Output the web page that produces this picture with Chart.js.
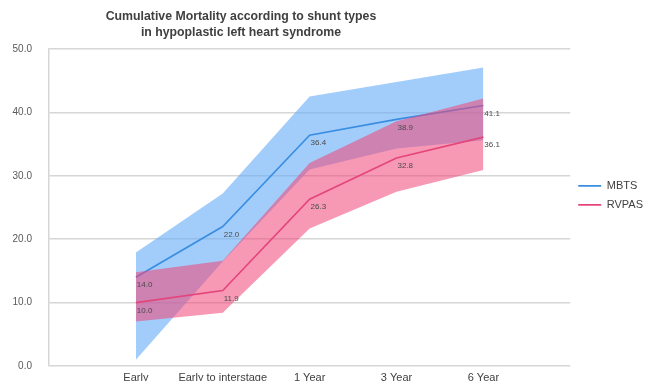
<!DOCTYPE html>
<html>
<head>
<meta charset="utf-8">
<script src="https://cdn.jsdelivr.net/npm/chart.js@4.4.1/dist/chart.umd.min.js"></script>
<style>
    body { margin: 0; background: #fff; }
    #wrap { position: relative; width: 656px; height: 381px; }
    #titulo {
        position: absolute; left: 41px; top: 8px; width: 400px;
        text-align: center; font: bold 12.3px "Liberation Sans", Arial, sans-serif;
        line-height: 16px; color: #404040;
    }
</style>
</head>
<body>
<div id="wrap">
    <div id="titulo">Cumulative Mortality according to shunt types<br>in hypoplastic left heart syndrome</div>
    <canvas id="lineChart"></canvas>
</div>
<script>
var categorias = ['Early', 'Early to interstage', '1 Year', '3 Year', '6 Year'];
var mbts       = [14.0, 22.0, 36.4, 38.9, 41.1];
var mbtsAlto   = [17.9, 27.2, 42.5, 44.8, 47.1];
var mbtsBajo   = [1.0, 16.5, 31.0, 34.3, 35.6];
var rvpas      = [10.0, 11.9, 26.3, 32.8, 36.1];
var rvpasAlto  = [14.8, 16.6, 32.0, 38.6, 42.2];
var rvpasBajo  = [7.0, 8.4, 21.7, 27.5, 30.9];
var ticksY     = [0, 10, 20, 30, 40, 50];

function puntos(valores) {
    return categorias.map(function (c, i) { return {x: c, y: valores[i]}; });
}

// etiquetas de valor debajo de cada punto
var etiquetasPlugin = {
    id: 'etiquetas',
    afterDatasetsDraw: function (chart) {
        var ctx = chart.ctx;
        ctx.save();
        ctx.font = '8px "Liberation Sans", Arial, sans-serif';
        ctx.fillStyle = '#4a4a4a';
        ctx.textAlign = 'left';
        ctx.textBaseline = 'middle';
        chart.data.datasets.forEach(function (ds, i) {
            if (!ds.conEtiquetas) return;
            chart.getDatasetMeta(i).data.forEach(function (p, j) {
                ctx.fillText(ds.data[j].y.toFixed(1), p.x + 1, p.y + 8);
            });
        });
        ctx.restore();
    }
};

function cargarGrafico() {
    Chart.defaults.font.family = '"Liberation Sans", Arial, sans-serif';
    var ctx = document.getElementById('lineChart').getContext('2d');
    new Chart(ctx, {
        type: 'line',
        data: {
            labels: [''].concat(categorias, ['']),
            datasets: [
                {label: 'mbtsAlto', data: puntos(mbtsAlto), borderWidth: 0, pointRadius: 0, fill: false, order: 8},
                {label: 'mbtsBajo', data: puntos(mbtsBajo), borderWidth: 0, pointRadius: 0, fill: '-1',
                    backgroundColor: 'rgba(100,170,245,0.6)', order: 7},
                {label: 'MBTS', data: puntos(mbts), borderColor: '#3a8ee2', backgroundColor: '#3a8ee2',
                    borderWidth: 1.6, pointRadius: 0, fill: false, order: 6, conEtiquetas: true},
                {label: 'rvpasAlto', data: puntos(rvpasAlto), borderWidth: 0, pointRadius: 0, fill: false, order: 5},
                {label: 'rvpasBajo', data: puntos(rvpasBajo), borderWidth: 0, pointRadius: 0, fill: '-1',
                    backgroundColor: 'rgba(240,70,120,0.55)', order: 4},
                {label: 'RVPAS', data: puntos(rvpas), borderColor: '#e4457b', backgroundColor: '#e4457b',
                    borderWidth: 1.6, pointRadius: 0, fill: false, order: 3, conEtiquetas: true}
            ]
        },
        options: {
            responsive: true,
            maintainAspectRatio: false,
            animation: false,
            layout: { padding: {top: 49, right: 3, bottom: 0, left: 0} },
            plugins: {
                tooltip: { enabled: false },
                legend: {
                    position: 'right',
                    align: 'start',
                    title: { display: true, text: '', padding: {top: 109, bottom: 0} },
                    labels: {
                        usePointStyle: true,
                        pointStyle: 'line',
                        pointStyleWidth: 23,
                        padding: 8,
                        color: '#404040',
                        font: { size: 11 },
                        filter: function (item) { return item.text === 'MBTS' || item.text === 'RVPAS'; },
                        sort: function (a, b) { return a.datasetIndex - b.datasetIndex; }
                    }
                }
            },
            scales: {
                x: {
                    offset: false,
                    grid: { display: false, drawTicks: false },
                    border: { display: false },
                    ticks: { color: '#404040', font: { size: 11 }, autoSkip: false, maxRotation: 0, padding: 5 },
                    afterFit: function (scale) { scale.height = 15; }
                },
                y: {
                    min: 0,
                    max: 50,
                    afterBuildTicks: function (scale) {
                        scale.ticks = ticksY.map(function (v) { return {value: v}; });
                    },
                    grid: { color: '#d6d6d6', lineWidth: 1.5, drawTicks: true, tickLength: 12, tickColor: 'rgba(0,0,0,0)' },
                    border: { display: true, color: '#d6d6d6', width: 1.5 },
                    ticks: {
                        color: '#595959',
                        font: { size: 10 },
                        padding: 5,
                        callback: function (v) { return v.toFixed(1); }
                    },
                    afterFit: function (scale) { scale.width = 49; }
                }
            }
        },
        plugins: [etiquetasPlugin]
    });
}

cargarGrafico();
</script>
</body>
</html>
